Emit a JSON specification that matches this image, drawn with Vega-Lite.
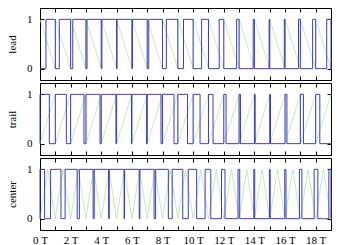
{
  "$schema": "https://vega.github.io/schema/vega-lite/v6.json",
  "padding": {"left": 6, "top": 7, "right": 5, "bottom": 0},
  "spacing": 1,
  "datasets": {
    "leadCar": [{"t":0,"v":1},{"t":1,"v":0},{"t":1,"v":1},{"t":2,"v":0},{"t":2,"v":1},{"t":3,"v":0},{"t":3,"v":1},{"t":4,"v":0},{"t":4,"v":1},{"t":5,"v":0},{"t":5,"v":1},{"t":6,"v":0},{"t":6,"v":1},{"t":7,"v":0},{"t":7,"v":1},{"t":8,"v":0},{"t":8,"v":1},{"t":9,"v":0},{"t":9,"v":1},{"t":10,"v":0},{"t":10,"v":1},{"t":11,"v":0},{"t":11,"v":1},{"t":12,"v":0},{"t":12,"v":1},{"t":13,"v":0},{"t":13,"v":1},{"t":14,"v":0},{"t":14,"v":1},{"t":15,"v":0},{"t":15,"v":1},{"t":16,"v":0},{"t":16,"v":1},{"t":17,"v":0},{"t":17,"v":1},{"t":18,"v":0},{"t":18,"v":1},{"t":19,"v":0}],
    "leadPwm": [{"t":0,"v":0},{"t":0.39,"v":0},{"t":0.39,"v":1},{"t":1,"v":1},{"t":1,"v":0},{"t":1.26,"v":0},{"t":1.26,"v":1},{"t":2,"v":1},{"t":2,"v":0},{"t":2.14,"v":0},{"t":2.14,"v":1},{"t":3,"v":1},{"t":3,"v":0},{"t":3.07,"v":0},{"t":3.07,"v":1},{"t":4,"v":1},{"t":4,"v":0},{"t":4.04,"v":0},{"t":4.04,"v":1},{"t":5,"v":1},{"t":5,"v":0},{"t":5.03,"v":0},{"t":5.03,"v":1},{"t":6,"v":1},{"t":6,"v":0},{"t":6.04,"v":0},{"t":6.04,"v":1},{"t":7,"v":1},{"t":7,"v":0},{"t":7.1,"v":0},{"t":7.1,"v":1},{"t":8,"v":1},{"t":8,"v":0},{"t":8.25,"v":0},{"t":8.25,"v":1},{"t":9,"v":1},{"t":9,"v":0},{"t":9.37,"v":0},{"t":9.37,"v":1},{"t":10,"v":1},{"t":10,"v":0},{"t":10.55,"v":0},{"t":10.55,"v":1},{"t":11,"v":1},{"t":11,"v":0},{"t":11.7,"v":0},{"t":11.7,"v":1},{"t":12,"v":1},{"t":12,"v":0},{"t":12.84,"v":0},{"t":12.84,"v":1},{"t":13,"v":1},{"t":13,"v":0},{"t":13.92,"v":0},{"t":13.92,"v":1},{"t":14,"v":1},{"t":14,"v":0},{"t":14.96,"v":0},{"t":14.96,"v":1},{"t":15,"v":1},{"t":15,"v":0},{"t":15.95,"v":0},{"t":15.95,"v":1},{"t":16,"v":1},{"t":16,"v":0},{"t":16.88,"v":0},{"t":16.88,"v":1},{"t":17,"v":1},{"t":17,"v":0},{"t":17.8,"v":0},{"t":17.8,"v":1},{"t":18,"v":1},{"t":18,"v":0},{"t":18.72,"v":0},{"t":18.72,"v":1},{"t":19,"v":1},{"t":19,"v":0}],
    "trailCar": [{"t":0,"v":0},{"t":1,"v":1},{"t":1,"v":0},{"t":2,"v":1},{"t":2,"v":0},{"t":3,"v":1},{"t":3,"v":0},{"t":4,"v":1},{"t":4,"v":0},{"t":5,"v":1},{"t":5,"v":0},{"t":6,"v":1},{"t":6,"v":0},{"t":7,"v":1},{"t":7,"v":0},{"t":8,"v":1},{"t":8,"v":0},{"t":9,"v":1},{"t":9,"v":0},{"t":10,"v":1},{"t":10,"v":0},{"t":11,"v":1},{"t":11,"v":0},{"t":12,"v":1},{"t":12,"v":0},{"t":13,"v":1},{"t":13,"v":0},{"t":14,"v":1},{"t":14,"v":0},{"t":15,"v":1},{"t":15,"v":0},{"t":16,"v":1},{"t":16,"v":0},{"t":17,"v":1},{"t":17,"v":0},{"t":18,"v":1},{"t":18,"v":0},{"t":19,"v":1}],
    "trailPwm": [{"t":0,"v":0},{"t":0,"v":1},{"t":0.61,"v":1},{"t":0.61,"v":0},{"t":1,"v":0},{"t":1,"v":1},{"t":1.72,"v":1},{"t":1.72,"v":0},{"t":2,"v":0},{"t":2,"v":1},{"t":2.87,"v":1},{"t":2.87,"v":0},{"t":3,"v":0},{"t":3,"v":1},{"t":3.92,"v":1},{"t":3.92,"v":0},{"t":4,"v":0},{"t":4,"v":1},{"t":4.96,"v":1},{"t":4.96,"v":0},{"t":5,"v":0},{"t":5,"v":1},{"t":5.97,"v":1},{"t":5.97,"v":0},{"t":6,"v":0},{"t":6,"v":1},{"t":6.96,"v":1},{"t":6.96,"v":0},{"t":7,"v":0},{"t":7,"v":1},{"t":7.9,"v":1},{"t":7.9,"v":0},{"t":8,"v":0},{"t":8,"v":1},{"t":8.75,"v":1},{"t":8.75,"v":0},{"t":9,"v":0},{"t":9,"v":1},{"t":9.63,"v":1},{"t":9.63,"v":0},{"t":10,"v":0},{"t":10,"v":1},{"t":10.45,"v":1},{"t":10.45,"v":0},{"t":11,"v":0},{"t":11,"v":1},{"t":11.3,"v":1},{"t":11.3,"v":0},{"t":12,"v":0},{"t":12,"v":1},{"t":12.15,"v":1},{"t":12.15,"v":0},{"t":13,"v":0},{"t":13,"v":1},{"t":13.09,"v":1},{"t":13.09,"v":0},{"t":14,"v":0},{"t":14,"v":1},{"t":14.05,"v":1},{"t":14.05,"v":0},{"t":15,"v":0},{"t":15,"v":1},{"t":15.05,"v":1},{"t":15.05,"v":0},{"t":16,"v":0},{"t":16,"v":1},{"t":16.12,"v":1},{"t":16.12,"v":0},{"t":17,"v":0},{"t":17,"v":1},{"t":17.2,"v":1},{"t":17.2,"v":0},{"t":18,"v":0},{"t":18,"v":1},{"t":18.27,"v":1},{"t":18.27,"v":0},{"t":19,"v":0}],
    "centerCar": [{"t":0,"v":0},{"t":0.5,"v":1},{"t":1,"v":0},{"t":1.5,"v":1},{"t":2,"v":0},{"t":2.5,"v":1},{"t":3,"v":0},{"t":3.5,"v":1},{"t":4,"v":0},{"t":4.5,"v":1},{"t":5,"v":0},{"t":5.5,"v":1},{"t":6,"v":0},{"t":6.5,"v":1},{"t":7,"v":0},{"t":7.5,"v":1},{"t":8,"v":0},{"t":8.5,"v":1},{"t":9,"v":0},{"t":9.5,"v":1},{"t":10,"v":0},{"t":10.5,"v":1},{"t":11,"v":0},{"t":11.5,"v":1},{"t":12,"v":0},{"t":12.5,"v":1},{"t":13,"v":0},{"t":13.5,"v":1},{"t":14,"v":0},{"t":14.5,"v":1},{"t":15,"v":0},{"t":15.5,"v":1},{"t":16,"v":0},{"t":16.5,"v":1},{"t":17,"v":0},{"t":17.5,"v":1},{"t":18,"v":0},{"t":18.5,"v":1},{"t":19,"v":0}],
    "centerPwm": [{"t":0,"v":0},{"t":0,"v":1},{"t":0.3,"v":1},{"t":0.3,"v":0},{"t":0.69,"v":0},{"t":0.69,"v":1},{"t":1.37,"v":1},{"t":1.37,"v":0},{"t":1.64,"v":0},{"t":1.64,"v":1},{"t":2.43,"v":1},{"t":2.43,"v":0},{"t":2.57,"v":0},{"t":2.57,"v":1},{"t":3.47,"v":1},{"t":3.47,"v":0},{"t":3.54,"v":0},{"t":3.54,"v":1},{"t":4.48,"v":1},{"t":4.48,"v":0},{"t":4.52,"v":0},{"t":4.52,"v":1},{"t":5.49,"v":1},{"t":5.49,"v":0},{"t":5.52,"v":0},{"t":5.52,"v":1},{"t":6.48,"v":1},{"t":6.48,"v":0},{"t":6.52,"v":0},{"t":6.52,"v":1},{"t":7.45,"v":1},{"t":7.45,"v":0},{"t":7.55,"v":0},{"t":7.55,"v":1},{"t":8.38,"v":1},{"t":8.38,"v":0},{"t":8.63,"v":0},{"t":8.63,"v":1},{"t":9.32,"v":1},{"t":9.32,"v":0},{"t":9.68,"v":0},{"t":9.68,"v":1},{"t":10.23,"v":1},{"t":10.23,"v":0},{"t":10.78,"v":0},{"t":10.78,"v":1},{"t":11.15,"v":1},{"t":11.15,"v":0},{"t":11.85,"v":0},{"t":11.85,"v":1},{"t":12.08,"v":1},{"t":12.08,"v":0},{"t":12.93,"v":0},{"t":12.93,"v":1},{"t":13.04,"v":1},{"t":13.04,"v":0},{"t":13.96,"v":0},{"t":13.96,"v":1},{"t":14.02,"v":1},{"t":14.02,"v":0},{"t":14.98,"v":0},{"t":14.98,"v":1},{"t":15.03,"v":1},{"t":15.03,"v":0},{"t":15.98,"v":0},{"t":15.98,"v":1},{"t":16.06,"v":1},{"t":16.06,"v":0},{"t":16.94,"v":0},{"t":16.94,"v":1},{"t":17.1,"v":1},{"t":17.1,"v":0},{"t":17.9,"v":0},{"t":17.9,"v":1},{"t":18.14,"v":1},{"t":18.14,"v":0},{"t":18.86,"v":0},{"t":18.86,"v":1},{"t":19,"v":1},{"t":19,"v":0}]
  },
  "vconcat": [
    {
      "width": 291, "height": 72,
      "layer": [
        {"data": {"name": "leadCar"}, "mark": {"type": "line", "color": "#a6e3a6", "strokeWidth": 0.7},
         "encoding": {"x": {"field": "t", "type": "quantitative", "scale": {"domain": [0, 19], "nice": false}, "axis": {"orient": "top", "values": [0,1,2,3,4,5,6,7,8,9,10,11,12,13,14,15,16,17,18,19], "labels": false, "title": null}},
                      "y": {"field": "v", "type": "quantitative", "scale": {"domain": [-0.23, 1.23], "nice": false, "zero": false}, "axis": {"orient": "right", "values": [0, 1], "labels": false, "title": null}},
                      "order": {"value": null}}},
        {"data": {"name": "leadPwm"}, "mark": {"type": "line", "color": "#3c3cc0", "strokeWidth": 1},
         "encoding": {"x": {"field": "t", "type": "quantitative", "scale": {"domain": [0, 19], "nice": false}, "axis": {"orient": "bottom", "values": [0,1,2,3,4,5,6,7,8,9,10,11,12,13,14,15,16,17,18,19], "labels": false, "title": null}},
                      "y": {"field": "v", "type": "quantitative", "scale": {"domain": [-0.23, 1.23], "nice": false, "zero": false}, "axis": {"orient": "left", "values": [0, 1], "title": "lead"}},
                      "order": {"value": null}}}
      ],
      "resolve": {"axis": {"x": "independent", "y": "independent"}}
    },
    {
      "width": 291, "height": 72,
      "layer": [
        {"data": {"name": "trailCar"}, "mark": {"type": "line", "color": "#a6e3a6", "strokeWidth": 0.7},
         "encoding": {"x": {"field": "t", "type": "quantitative", "scale": {"domain": [0, 19], "nice": false}, "axis": {"orient": "top", "values": [0,1,2,3,4,5,6,7,8,9,10,11,12,13,14,15,16,17,18,19], "labels": false, "title": null}},
                      "y": {"field": "v", "type": "quantitative", "scale": {"domain": [-0.23, 1.23], "nice": false, "zero": false}, "axis": {"orient": "right", "values": [0, 1], "labels": false, "title": null}},
                      "order": {"value": null}}},
        {"data": {"name": "trailPwm"}, "mark": {"type": "line", "color": "#3c3cc0", "strokeWidth": 1},
         "encoding": {"x": {"field": "t", "type": "quantitative", "scale": {"domain": [0, 19], "nice": false}, "axis": {"orient": "bottom", "values": [0,1,2,3,4,5,6,7,8,9,10,11,12,13,14,15,16,17,18,19], "labels": false, "title": null}},
                      "y": {"field": "v", "type": "quantitative", "scale": {"domain": [-0.23, 1.23], "nice": false, "zero": false}, "axis": {"orient": "left", "values": [0, 1], "title": "trail"}},
                      "order": {"value": null}}}
      ],
      "resolve": {"axis": {"x": "independent", "y": "independent"}}
    },
    {
      "width": 291, "height": 72,
      "layer": [
        {"data": {"name": "centerCar"}, "mark": {"type": "line", "color": "#a6e3a6", "strokeWidth": 0.7},
         "encoding": {"x": {"field": "t", "type": "quantitative", "scale": {"domain": [0, 19], "nice": false}, "axis": {"orient": "top", "values": [0,1,2,3,4,5,6,7,8,9,10,11,12,13,14,15,16,17,18,19], "labels": false, "title": null}},
                      "y": {"field": "v", "type": "quantitative", "scale": {"domain": [-0.23, 1.23], "nice": false, "zero": false}, "axis": {"orient": "right", "values": [0, 1], "labels": false, "title": null}},
                      "order": {"value": null}}},
        {"data": {"name": "centerPwm"}, "mark": {"type": "line", "color": "#3c3cc0", "strokeWidth": 1},
         "encoding": {"x": {"field": "t", "type": "quantitative", "scale": {"domain": [0, 19], "nice": false}, "axis": {"orient": "bottom", "values": [0,1,2,3,4,5,6,7,8,9,10,11,12,13,14,15,16,17,18,19], "labelExpr": "datum.value % 2 === 0 ? datum.value + ' T' : ''", "title": null}},
                      "y": {"field": "v", "type": "quantitative", "scale": {"domain": [-0.23, 1.23], "nice": false, "zero": false}, "axis": {"orient": "left", "values": [0, 1], "title": "center"}},
                      "order": {"value": null}}}
      ],
      "resolve": {"axis": {"x": "independent", "y": "independent"}}
    }
  ],
  "config": {
    "font": "Liberation Serif",
    "view": {"stroke": "black", "strokeWidth": 1},
    "axis": {"grid": false, "domain": false, "tickColor": "black", "tickSize": -4, "labelColor": "black", "labelFontSize": 11, "labelPadding": 8, "labelFlush": false, "labelOverlap": false, "titleColor": "black", "titleFontSize": 11, "titleFontWeight": "normal", "titlePadding": 4},
    "axisLeft": {"labelPadding": 12, "titlePadding": 9}
  }
}
